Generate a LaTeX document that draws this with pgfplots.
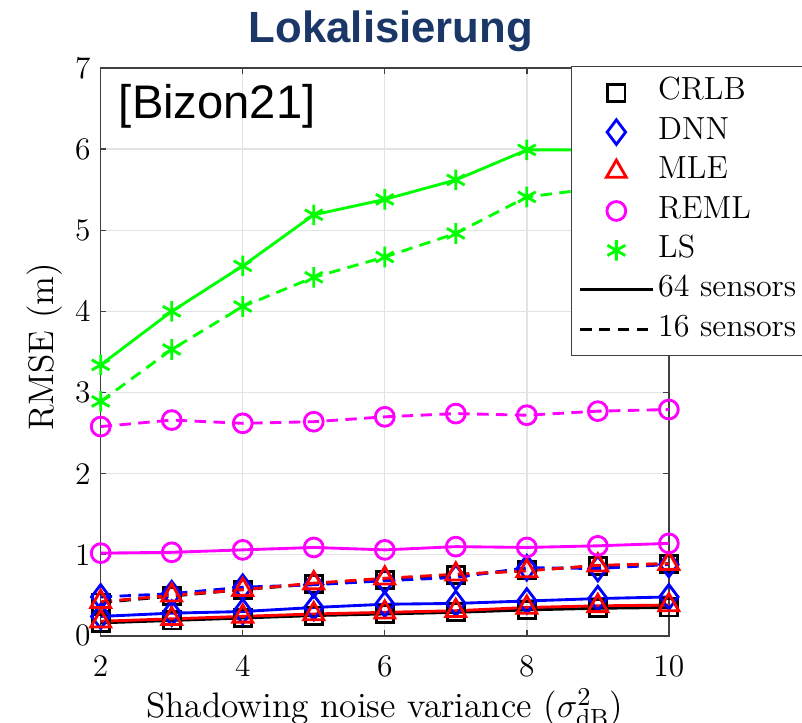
\documentclass[border=0pt]{standalone}
\usepackage{fontspec}
\usepackage{pgfplots}
\pgfplotsset{compat=1.18}
\newfontfamily\titlefont{Liberation Sans}
\definecolor{titleblue}{HTML}{1B3768}
\definecolor{axgray}{HTML}{404040}
\definecolor{mmag}{RGB}{255,0,255}
\definecolor{mgreen}{RGB}{0,255,0}
\definecolor{mblue}{RGB}{0,0,255}
\definecolor{mred}{RGB}{255,0,0}
\begin{document}
\begin{tikzpicture}
\useasboundingbox (-35.25pt,-30.45pt) rectangle (245.5pt,222.6pt);
\begin{axis}[
  at={(0pt,0pt)}, anchor=south west,
  scale only axis, width=198.9pt, height=198.8pt,
  xmin=2, xmax=10, ymin=0, ymax=7,
  xtick={2,4,6,8,10}, ytick={0,1,2,3,4,5,6,7},
  grid=major, grid style={draw=black!11, line width=0.5pt},
  tick align=inside, major tick length=2pt,
  axis line style={draw=axgray, line width=0.5pt},
  tick style={draw=axgray, line width=0.5pt},
  /pgf/number format/assume math mode=true,
  tick label style={font=\fontsize{11}{13}\selectfont},
  xticklabel style={yshift=-3.3pt},
  xlabel={Shadowing noise variance ($\sigma^2_{\mathrm{dB}}$)},
  ylabel={RMSE (m)},
  every axis x label/.style={at={(axis description cs:0.5,0)}, anchor=base, yshift=-28.6pt, font=\fontsize{12.4}{15}\selectfont},
  every axis y label/.style={at={(axis description cs:-0.098,0.509)}, anchor=center, rotate=90, font=\fontsize{12.4}{15}\selectfont},
  legend image code/.code={\draw[mark repeat=2,mark phase=2,#1] plot coordinates {(0cm,0cm) (0.445cm,0cm) (0.89cm,0cm)};},
  legend style={at={(axis description cs:0.8276,1.0035)}, anchor=north west,
    draw=axgray, line width=0.5pt, fill=white,
    font=\fontsize{11.2}{13.5}\selectfont,
    inner xsep=2.5pt, inner ysep=3.1pt, row sep=1.8pt,
    nodes={inner sep=1.5pt, text height=0.7em, text depth=0.2em}},
  legend cell align=left,
  every axis plot/.append style={line width=1pt, mark options={solid, line width=1pt}},
]
% 64 sensors (solid) and 16 sensors (dashed)
\addplot[forget plot, black, mark=square, mark size=3pt] coordinates {(2,0.16) (3,0.19) (4,0.22) (5,0.25) (6,0.27) (7,0.29) (8,0.32) (9,0.34) (10,0.35)};
\addplot[forget plot, black, dash pattern=on 4pt off 2.6pt, mark=square, mark size=3pt] coordinates {(2,0.41) (3,0.49) (4,0.57) (5,0.64) (6,0.69) (7,0.75) (8,0.81) (9,0.86) (10,0.89)};
\addplot[forget plot, mblue, mark=diamond, mark size=4.3pt] coordinates {(2,0.24) (3,0.28) (4,0.30) (5,0.35) (6,0.39) (7,0.40) (8,0.43) (9,0.46) (10,0.48)};
\addplot[forget plot, mblue, dash pattern=on 4pt off 2.6pt, mark=diamond, mark size=4.3pt] coordinates {(2,0.48) (3,0.52) (4,0.60) (5,0.63) (6,0.68) (7,0.72) (8,0.84) (9,0.83) (10,0.88)};
\addplot[forget plot, mred, mark=triangle, mark size=4pt] coordinates {(2,0.18) (3,0.21) (4,0.24) (5,0.27) (6,0.29) (7,0.31) (8,0.35) (9,0.37) (10,0.38)};
\addplot[forget plot, mred, dash pattern=on 4pt off 2.6pt, mark=triangle, mark size=4pt] coordinates {(2,0.42) (3,0.50) (4,0.57) (5,0.65) (6,0.71) (7,0.76) (8,0.80) (9,0.87) (10,0.89)};
\addplot[forget plot, mmag, mark=o, mark size=3.3pt] coordinates {(2,1.02) (3,1.03) (4,1.06) (5,1.09) (6,1.06) (7,1.10) (8,1.09) (9,1.11) (10,1.14)};
\addplot[forget plot, mmag, dash pattern=on 4pt off 2.6pt, mark=o, mark size=3.3pt] coordinates {(2,2.58) (3,2.66) (4,2.62) (5,2.64) (6,2.70) (7,2.74) (8,2.72) (9,2.77) (10,2.79)};
\addplot[forget plot, mgreen, mark=asterisk, mark size=3.6pt] coordinates {(2,3.34) (3,4.00) (4,4.56) (5,5.19) (6,5.38) (7,5.62) (8,5.99) (9,5.99) (10,6.05)};
\addplot[forget plot, mgreen, dash pattern=on 4pt off 2.6pt, mark=asterisk, mark size=3.6pt] coordinates {(2,2.89) (3,3.53) (4,4.06) (5,4.42) (6,4.67) (7,4.96) (8,5.41) (9,5.52) (10,5.63)};
% legend
\addlegendimage{only marks, black, mark=square, mark size=3pt}
\addlegendentry{CRLB}
\addlegendimage{only marks, mblue, mark=diamond, mark size=4.3pt}
\addlegendentry{DNN}
\addlegendimage{only marks, mred, mark=triangle, mark size=4pt}
\addlegendentry{MLE}
\addlegendimage{only marks, mmag, mark=o, mark size=3.3pt}
\addlegendentry{REML}
\addlegendimage{only marks, mgreen, mark=asterisk, mark size=3.6pt}
\addlegendentry{LS}
\addlegendimage{black, solid}
\addlegendentry{64 sensors}
\addlegendimage{black, dash pattern=on 4pt off 2.6pt}
\addlegendentry{16 sensors}
\end{axis}
\node[anchor=base west, inner sep=0pt, font=\titlefont\fontsize{16.5}{18}\selectfont] at (6.2pt,181.2pt) {[Bizon21]};
\node[anchor=base, inner sep=0pt, text=titleblue, font=\titlefont\bfseries\fontsize{15.3}{18}\selectfont] at (101.6pt,207.6pt) {Lokalisierung};
\end{tikzpicture}
\end{document}
